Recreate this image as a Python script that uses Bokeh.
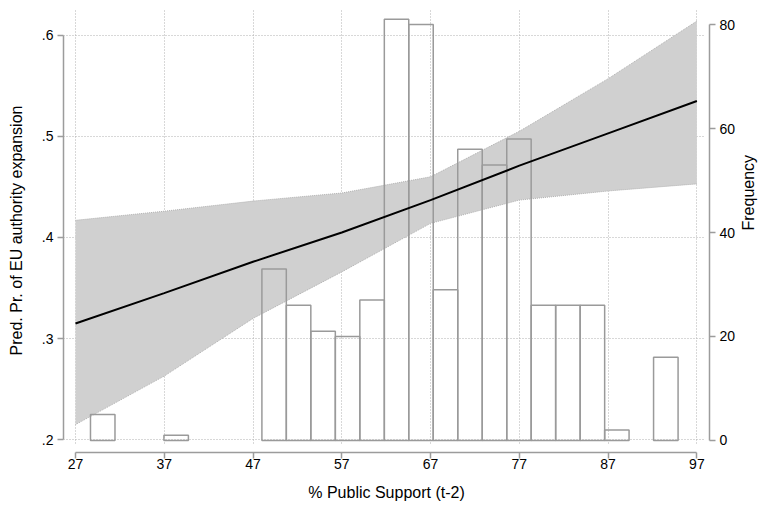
import math
from bokeh.plotting import figure
from bokeh.models import (Range1d, LinearAxis, FixedTicker, CustomJSTickFormatter,
                          ColumnDataSource, Grid)
from bokeh.embed import file_html
from bokeh.resources import INLINE

# ---------------- data ----------------
x_pts = [27, 37, 47, 57, 67, 77, 87, 97]
pred = [0.315, 0.345, 0.376, 0.405, 0.437, 0.471, 0.503, 0.535]
upper = [0.417, 0.426, 0.436, 0.444, 0.460, 0.505, 0.557, 0.614]
lower = [0.215, 0.263, 0.320, 0.366, 0.414, 0.437, 0.446, 0.453]

bin_edges = [28.69, 31.45, 34.21, 36.96, 39.72, 42.48, 45.24, 48.00, 50.75,
             53.51, 56.27, 59.03, 61.79, 64.54, 67.30, 70.06, 72.82, 75.58,
             78.33, 81.09, 83.85, 86.61, 89.36, 92.12, 94.88]
counts = [5, 0, 0, 1, 0, 0, 0, 33, 26, 21, 20, 27, 81, 80, 29, 56, 53, 58,
          26, 26, 26, 2, 0, 16]

x_ticks = [27, 37, 47, 57, 67, 77, 87, 97]
y_ticks = [0.2, 0.3, 0.4, 0.5, 0.6]
freq_ticks = [0, 20, 40, 60, 80]

x_title = "% Public Support (t-2)"
y_title = "Pred. Pr. of EU authority expansion"
freq_title = "Frequency"

# ---------------- styling ----------------
FONT = "Liberation Sans"
AXIS_GRAY = "#9c9c9c"
GRID_GRAY = "#b0b0b0"

p = figure(width=770, height=504, output_backend="svg", toolbar_location=None,
           x_range=Range1d(25.65, 98.42), y_range=Range1d(0.18744, 0.6264),
           min_border_left=63, min_border_right=61, min_border_top=8,
           min_border_bottom=52, x_axis_type=None, y_axis_type=None)
p.outline_line_color = None
p.background_fill_color = "white"
p.border_fill_color = "white"
p.extra_y_ranges = {"freq": Range1d(-2.31, 83.08)}


def style_axis(ax):
    ax.axis_line_color = AXIS_GRAY
    ax.axis_line_width = 1.5
    ax.major_tick_line_color = AXIS_GRAY
    ax.major_tick_line_width = 1.5
    ax.major_tick_out = 6
    ax.major_tick_in = 0
    ax.minor_tick_line_color = None
    ax.major_label_text_font = FONT
    ax.major_label_text_font_size = "14px"
    ax.major_label_text_color = "black"
    ax.axis_label_text_font = FONT
    ax.axis_label_text_font_size = "16px"
    ax.axis_label_text_font_style = "normal"
    ax.axis_label_text_color = "black"


xaxis = LinearAxis(ticker=FixedTicker(ticks=x_ticks), bounds=(27, 97),
                   axis_label=x_title)
style_axis(xaxis)
xaxis.major_label_standoff = 0
xaxis.axis_label_standoff = 12
p.add_layout(xaxis, "below")

yaxis = LinearAxis(ticker=FixedTicker(ticks=y_ticks), bounds=(0.2, 0.6),
                   axis_label=y_title,
                   formatter=CustomJSTickFormatter(
                       code="return tick.toFixed(1).replace(/^0/, '');"))
style_axis(yaxis)
yaxis.major_label_standoff = 4
yaxis.axis_label_standoff = 14
p.add_layout(yaxis, "left")

faxis = LinearAxis(y_range_name="freq", ticker=FixedTicker(ticks=freq_ticks),
                   bounds=(0, 80))
style_axis(faxis)
faxis.major_label_standoff = 4
p.add_layout(faxis, "right")

# outer right axis carrying only the "Frequency" title (reads bottom to top)
ftitle_axis = LinearAxis(y_range_name="freq", ticker=FixedTicker(ticks=[]),
                         axis_label=freq_title)
style_axis(ftitle_axis)
ftitle_axis.axis_line_color = None
ftitle_axis.major_tick_line_color = None
ftitle_axis.major_tick_out = 0
ftitle_axis.major_label_standoff = 0
ftitle_axis.axis_label_standoff = 10
ftitle_axis.axis_label_text_baseline = "top"
try:
    ftitle_axis.axis_label_orientation = math.pi / 2
except Exception:
    pass
p.add_layout(ftitle_axis, "right")

# grids
try:
    xgrid = Grid(dimension=0, ticker=FixedTicker(ticks=x_ticks),
                 cross_bounds=(0.1963, 0.6264))
except Exception:
    xgrid = Grid(dimension=0, ticker=FixedTicker(ticks=x_ticks))
try:
    ygrid = Grid(dimension=1, ticker=FixedTicker(ticks=y_ticks),
                 cross_bounds=(25.65, 97.93))
except Exception:
    ygrid = Grid(dimension=1, ticker=FixedTicker(ticks=y_ticks))
for g in (xgrid, ygrid):
    g.grid_line_color = GRID_GRAY
    g.grid_line_dash = "1 2"
    g.grid_line_width = 1
    p.add_layout(g)

# confidence band
band_src = ColumnDataSource(dict(x=x_pts, lo=lower, hi=upper, pr=pred))
p.varea(x="x", y1="lo", y2="hi", source=band_src, fill_color="#d0d0d0")
p.line(x="x", y="hi", source=band_src, line_color="#b0b0b0", line_width=1,
       line_dash="1 1")
p.line(x="x", y="lo", source=band_src, line_color="#b0b0b0", line_width=1,
       line_dash="1 1")

# histogram (frequency axis)
lefts = [bin_edges[i] for i in range(len(counts)) if counts[i] > 0]
rights = [bin_edges[i + 1] for i in range(len(counts)) if counts[i] > 0]
tops = [counts[i] for i in range(len(counts)) if counts[i] > 0]
hist_src = ColumnDataSource(dict(left=lefts, right=rights, top=tops))
p.quad(left="left", right="right", bottom=0, top="top", source=hist_src,
       y_range_name="freq", fill_alpha=0, line_color="#9a9a9a", line_width=1.5)

# prediction line
p.line(x="x", y="pr", source=band_src, line_color="black", line_width=2)

open("out.html", "w").write(file_html(p, INLINE))
